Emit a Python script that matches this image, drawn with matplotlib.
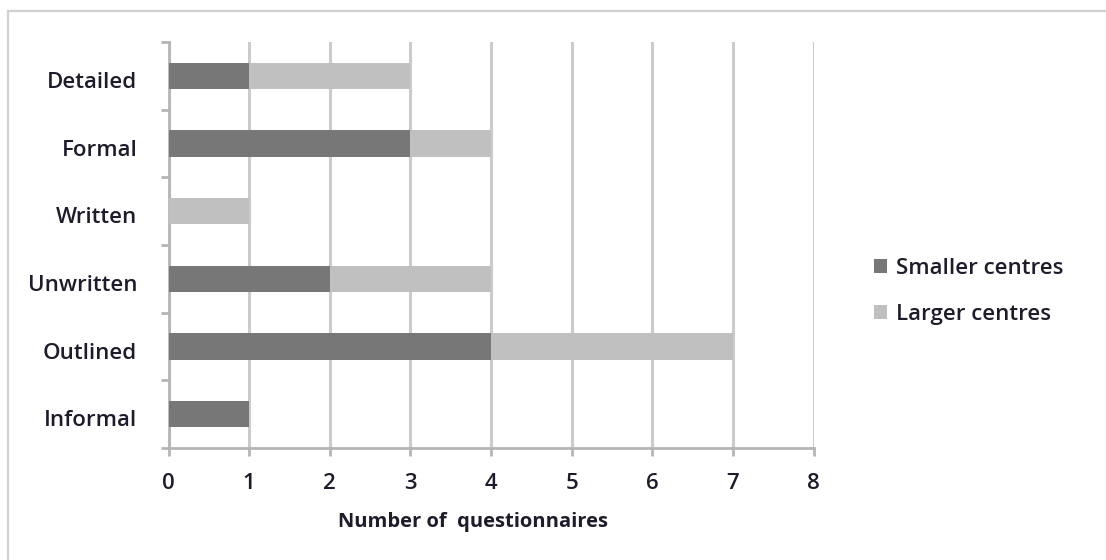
import matplotlib
matplotlib.use("Agg")
import matplotlib.pyplot as plt
from matplotlib.patches import Rectangle
import numpy as np

# Survey data: number of questionnaires per description of procedure
categories = ["Detailed", "Formal", "Written", "Unwritten", "Outlined", "Informal"]
smaller_centres = [1, 3, 0, 2, 4, 1]
larger_centres = [2, 1, 1, 2, 3, 0]
x_ticks = [0, 1, 2, 3, 4, 5, 6, 7, 8]
series_names = ["Smaller centres", "Larger centres"]

plt.rcParams["font.family"] = ["Open Sans", "DejaVu Sans"]
FS = 16
TXT = "#1c1c2a"

W, H = 1106, 560
fig = plt.figure(figsize=(W / 100, H / 100), dpi=100)
fig.patch.set_facecolor("white")

# Chart frame (runs past the right and bottom edges)
fig.patches.append(Rectangle((8 / W, -0.1), 1.2, (H - 11) / H + 0.1,
                             transform=fig.transFigure, fill=False,
                             edgecolor="#d0d0d0", linewidth=1.6, zorder=0))

ax = fig.add_axes([168.5 / W, 1 - 448 / H, (813.5 - 168.5) / W, (448 - 42) / H])

n = len(categories)
pos = np.arange(n)[::-1]
dark = "#777777"
light = "#c0c0c0"
bar_h = 0.39
ax.barh(pos, smaller_centres, height=bar_h, color=dark, label=series_names[0], zorder=3)
ax.barh(pos, larger_centres, left=smaller_centres, height=bar_h, color=light,
        label=series_names[1], zorder=3)

ax.set_xlim(0, 8)
ax.set_ylim(-0.5, n - 0.5)
ax.set_xticks(x_ticks)
ax.set_xticklabels([str(t) for t in x_ticks], fontweight="semibold")
# category labels sit a touch below the bar centres
ax.set_yticks(pos - 0.06)
ax.set_yticklabels(categories, fontweight="semibold")
ax.set_yticks(np.arange(-0.5, n, 1.0), minor=True)

ax.xaxis.grid(True, color="#cbcbcb", linewidth=2.2, zorder=0)
ax.set_axisbelow(True)

for s in ["top", "right"]:
    ax.spines[s].set_visible(False)
for s in ["left", "bottom"]:
    ax.spines[s].set_color("#b5b5b5")
    ax.spines[s].set_linewidth(2.0)

ax.tick_params(axis="x", direction="out", length=6, width=2.0, color="#b5b5b5",
               pad=12, labelsize=FS, labelcolor=TXT)
ax.tick_params(axis="y", which="major", length=0, pad=22.5, labelsize=FS,
               labelcolor=TXT)
ax.tick_params(axis="y", which="minor", direction="out", length=6, width=2.0,
               color="#b5b5b5")

ax.set_xlabel("Number of  questionnaires", fontsize=14.5, fontweight="bold",
              color=TXT, labelpad=13, x=0.472)

leg = ax.legend(loc="center left", bbox_to_anchor=(1.063, 0.386), frameon=False,
                prop={"size": FS, "weight": "semibold"}, handlelength=0.6,
                handleheight=0.6, handletextpad=0.4, labelspacing=1.15,
                labelcolor=TXT)

fig.savefig("out.png", dpi=100)
